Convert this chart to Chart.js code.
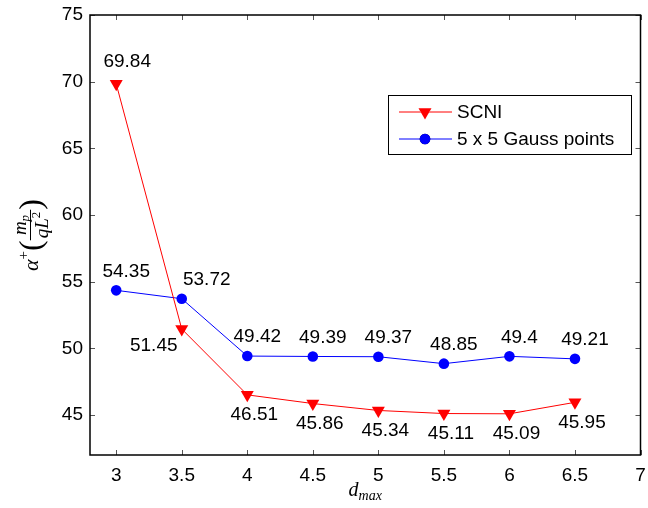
<!DOCTYPE html>
<html>
<head>
<meta charset="utf-8">
<script src="https://cdn.jsdelivr.net/npm/chart.js@4/dist/chart.umd.min.js"></script>
<style>
    html, body { margin: 0; padding: 0; background: #fff; }
    #wrap { width: 648px; height: 508px; position: relative; }
</style>
</head>
<body>
<div id="wrap"><canvas id="dmaxChart"></canvas></div>
<script>
// Datos del gráfico
const xValues = [3, 3.5, 4, 4.5, 5, 5.5, 6, 6.5];
const scniValues = [69.84, 51.45, 46.51, 45.86, 45.34, 45.11, 45.09, 45.95];
const gaussValues = [54.35, 53.72, 49.42, 49.39, 49.37, 48.85, 49.4, 49.21];
const xTicks = [3, 3.5, 4, 4.5, 5, 5.5, 6, 6.5, 7];
const yTicks = [45, 50, 55, 60, 65, 70, 75];
const seriesNames = ["SCNI", "5 x 5 Gauss points"];

const FONT = "'Liberation Sans', Arial, Helvetica, sans-serif";
const SERIF = "'Liberation Serif', 'DejaVu Serif', serif";
const FS = 19;

// Caja del área, con marcas hacia dentro en los cuatro lados
const boxPlugin = {
    id: "box",
    beforeDatasetsDraw(chart) {
        const { ctx, chartArea: a, scales } = chart;
        ctx.save();
        ctx.strokeStyle = "#555";
        ctx.lineWidth = 1;
        const tl = 5;
        xTicks.forEach((v) => {
            const px = Math.round(scales.x.getPixelForValue(v)) + 0.5;
            ctx.beginPath();
            ctx.moveTo(px, a.bottom);
            ctx.lineTo(px, a.bottom - tl);
            ctx.moveTo(px, a.top);
            ctx.lineTo(px, a.top + tl);
            ctx.stroke();
        });
        yTicks.forEach((v) => {
            const py = Math.round(scales.y.getPixelForValue(v)) + 0.5;
            ctx.beginPath();
            ctx.moveTo(a.left, py);
            ctx.lineTo(a.left + tl, py);
            ctx.moveTo(a.right, py);
            ctx.lineTo(a.right - tl, py);
            ctx.stroke();
        });
        ctx.strokeStyle = "#000";
        ctx.lineWidth = 1.5;
        ctx.strokeRect(a.left, a.top, a.right - a.left, a.bottom - a.top);
        ctx.restore();
    },
};

// Etiquetas con el valor de cada punto
const valueLabels = {
    id: "valueLabels",
    afterDatasetsDraw(chart) {
        const { ctx } = chart;
        ctx.save();
        ctx.font = FS + "px " + FONT;
        ctx.fillStyle = "#000";
        ctx.textAlign = "center";
        ctx.textBaseline = "middle";
        chart.data.datasets.forEach((ds, di) => {
            const meta = chart.getDatasetMeta(di);
            meta.data.forEach((pt, i) => {
                const txt = String(ds.data[i].y);
                let dx, dy;
                if (di === 1) {
                    dx = i === 1 ? 25 : 10;
                    dy = -19;
                } else if (i === 0) {
                    dx = 11;
                    dy = -22;
                } else if (i === 1) {
                    dx = -28;
                    dy = 17;
                } else {
                    dx = 7;
                    dy = 20;
                }
                ctx.fillText(txt, pt.x + dx, pt.y + dy);
            });
        });
        ctx.restore();
    },
};

// Leyenda con recuadro
const boxedLegend = {
    id: "boxedLegend",
    afterDatasetsDraw(chart) {
        const { ctx } = chart;
        const x0 = 388, y0 = 95, w = 243, h = 59;
        ctx.save();
        ctx.fillStyle = "#fff";
        ctx.fillRect(x0, y0, w, h);
        ctx.strokeStyle = "#000";
        ctx.lineWidth = 1;
        ctx.strokeRect(x0 + 0.5, y0 + 0.5, w, h);
        chart.data.datasets.forEach((ds, di) => {
            const cy = y0 + 17 + di * 27;
            ctx.strokeStyle = ds.borderColor;
            ctx.lineWidth = 1;
            ctx.beginPath();
            ctx.moveTo(x0 + 11, cy);
            ctx.lineTo(x0 + 64, cy);
            ctx.stroke();
            Chart.helpers.drawPoint(ctx, {
                pointStyle: ds.pointStyle,
                rotation: ds.pointRotation || 0,
                radius: ds.pointRadius,
                borderWidth: 0,
            }, x0 + 37, cy);
            ctx.fillStyle = ds.pointBackgroundColor;
            ctx.fill();
            ctx.fillStyle = "#000";
            ctx.font = FS + "px " + FONT;
            ctx.textBaseline = "middle";
            ctx.textAlign = "left";
            ctx.fillText(ds.label, x0 + 69, cy + 1);
        });
        ctx.restore();
    },
};

// Títulos de los ejes (notación matemática)
const axisTitles = {
    id: "axisTitles",
    afterDraw(chart) {
        const { ctx, chartArea: a } = chart;
        ctx.save();
        ctx.fillStyle = "#000";
        ctx.textBaseline = "alphabetic";

        // eje x: d_max
        const big = "italic 20px " + SERIF;
        const small = "italic 14px " + SERIF;
        ctx.font = big;
        const wd = ctx.measureText("d").width;
        ctx.font = small;
        const wm = ctx.measureText("max").width;
        let x = (a.left + a.right) / 2 - (wd + wm) / 2;
        const by = 496;
        ctx.font = big;
        ctx.fillText("d", x, by);
        ctx.font = small;
        ctx.fillText("max", x + wd, by + 4);

        // eje y: α⁺(m_p / qL²)
        ctx.translate(31, 235);
        ctx.rotate(-Math.PI / 2);
        const fA = "italic 22px " + SERIF;
        const fSup = "15px " + SERIF;
        const fPar = "32px " + SERIF;
        const fF = "italic 19px " + SERIF;
        const fS = "italic 13px " + SERIF;
        const fSn = "13px " + SERIF;
        const m = (f, t) => { ctx.font = f; return ctx.measureText(t).width; };
        const wA = m(fA, "α"), wP = m(fSup, "+"), wL = m(fPar, "(");
        const wNum = m(fF, "m") + m(fS, "p");
        const wDen = m(fF, "qL") + m(fSn, "2");
        const wFr = Math.max(wNum, wDen) + 4;
        const total = wA + wP + wL + wFr + wL;
        x = -total / 2;
        const axis = 0; // eje matemático
        ctx.font = fA;
        ctx.fillText("α", x, axis + 7);
        x += wA;
        ctx.font = fSup;
        ctx.fillText("+", x, axis - 3);
        x += wP;
        ctx.font = fPar;
        ctx.fillText("(", x, axis + 10);
        x += wL;
        // numerador
        let nx = x + (wFr - wNum) / 2;
        ctx.font = fF;
        ctx.fillText("m", nx, axis - 5);
        nx += m(fF, "m");
        ctx.font = fS;
        ctx.fillText("p", nx, axis - 2);
        // denominador
        let dxp = x + (wFr - wDen) / 2;
        ctx.font = fF;
        ctx.fillText("qL", dxp, axis + 17);
        dxp += m(fF, "qL");
        ctx.font = fSn;
        ctx.fillText("2", dxp, axis + 9);
        ctx.fillRect(x, axis - 1, wFr, 1);
        x += wFr;
        ctx.font = fPar;
        ctx.fillText(")", x, axis + 10);
        ctx.restore();
    },
};

const ctx = document.getElementById("dmaxChart");
new Chart(ctx, {
    type: "line",
    data: {
        datasets: [
            {
                label: seriesNames[0],
                data: xValues.map((x, i) => ({ x: x, y: scniValues[i] })),
                borderColor: "#ff0000",
                backgroundColor: "#ff0000",
                pointBackgroundColor: "#ff0000",
                borderWidth: 1,
                pointStyle: "triangle",
                pointRotation: 180,
                pointRadius: 7.5,
                pointBorderWidth: 0,
                tension: 0,
            },
            {
                label: seriesNames[1],
                data: xValues.map((x, i) => ({ x: x, y: gaussValues[i] })),
                borderColor: "#0000ff",
                backgroundColor: "#0000ff",
                pointBackgroundColor: "#0000ff",
                borderWidth: 1,
                pointStyle: "circle",
                pointRadius: 5.3,
                pointBorderWidth: 0,
                tension: 0,
            },
        ],
    },
    options: {
        responsive: true,
        maintainAspectRatio: false,
        animation: false,
        layout: { padding: { top: 15, right: 1, left: 0, bottom: 0 } },
        plugins: {
            legend: { display: false },
            tooltip: { enabled: false },
        },
        scales: {
            x: {
                type: "linear",
                min: 2.8,
                max: 7,
                grid: { display: false, drawTicks: false },
                border: { display: false },
                afterBuildTicks: (scale) => {
                    scale.ticks = xTicks.map((v) => ({ value: v }));
                },
                afterFit: (scale) => {
                    scale.height = 53;
                    scale.paddingLeft = 0;
                    scale.paddingRight = 0;
                },
                ticks: {
                    color: "#000",
                    padding: 9,
                    maxRotation: 0,
                    font: { family: FONT, size: FS },
                    callback: (v) => String(v),
                },
            },
            y: {
                min: 42,
                max: 75,
                grid: { display: false, drawTicks: false },
                border: { display: false },
                afterBuildTicks: (scale) => {
                    scale.ticks = yTicks.map((v) => ({ value: v }));
                },
                afterFit: (scale) => {
                    scale.width = 90;
                    scale.paddingTop = 0;
                    scale.paddingBottom = 0;
                },
                ticks: {
                    color: "#000",
                    padding: 7,
                    font: { family: FONT, size: FS },
                    callback: (v) => String(v),
                },
            },
        },
    },
    plugins: [boxPlugin, valueLabels, boxedLegend, axisTitles],
});
</script>
</body>
</html>
